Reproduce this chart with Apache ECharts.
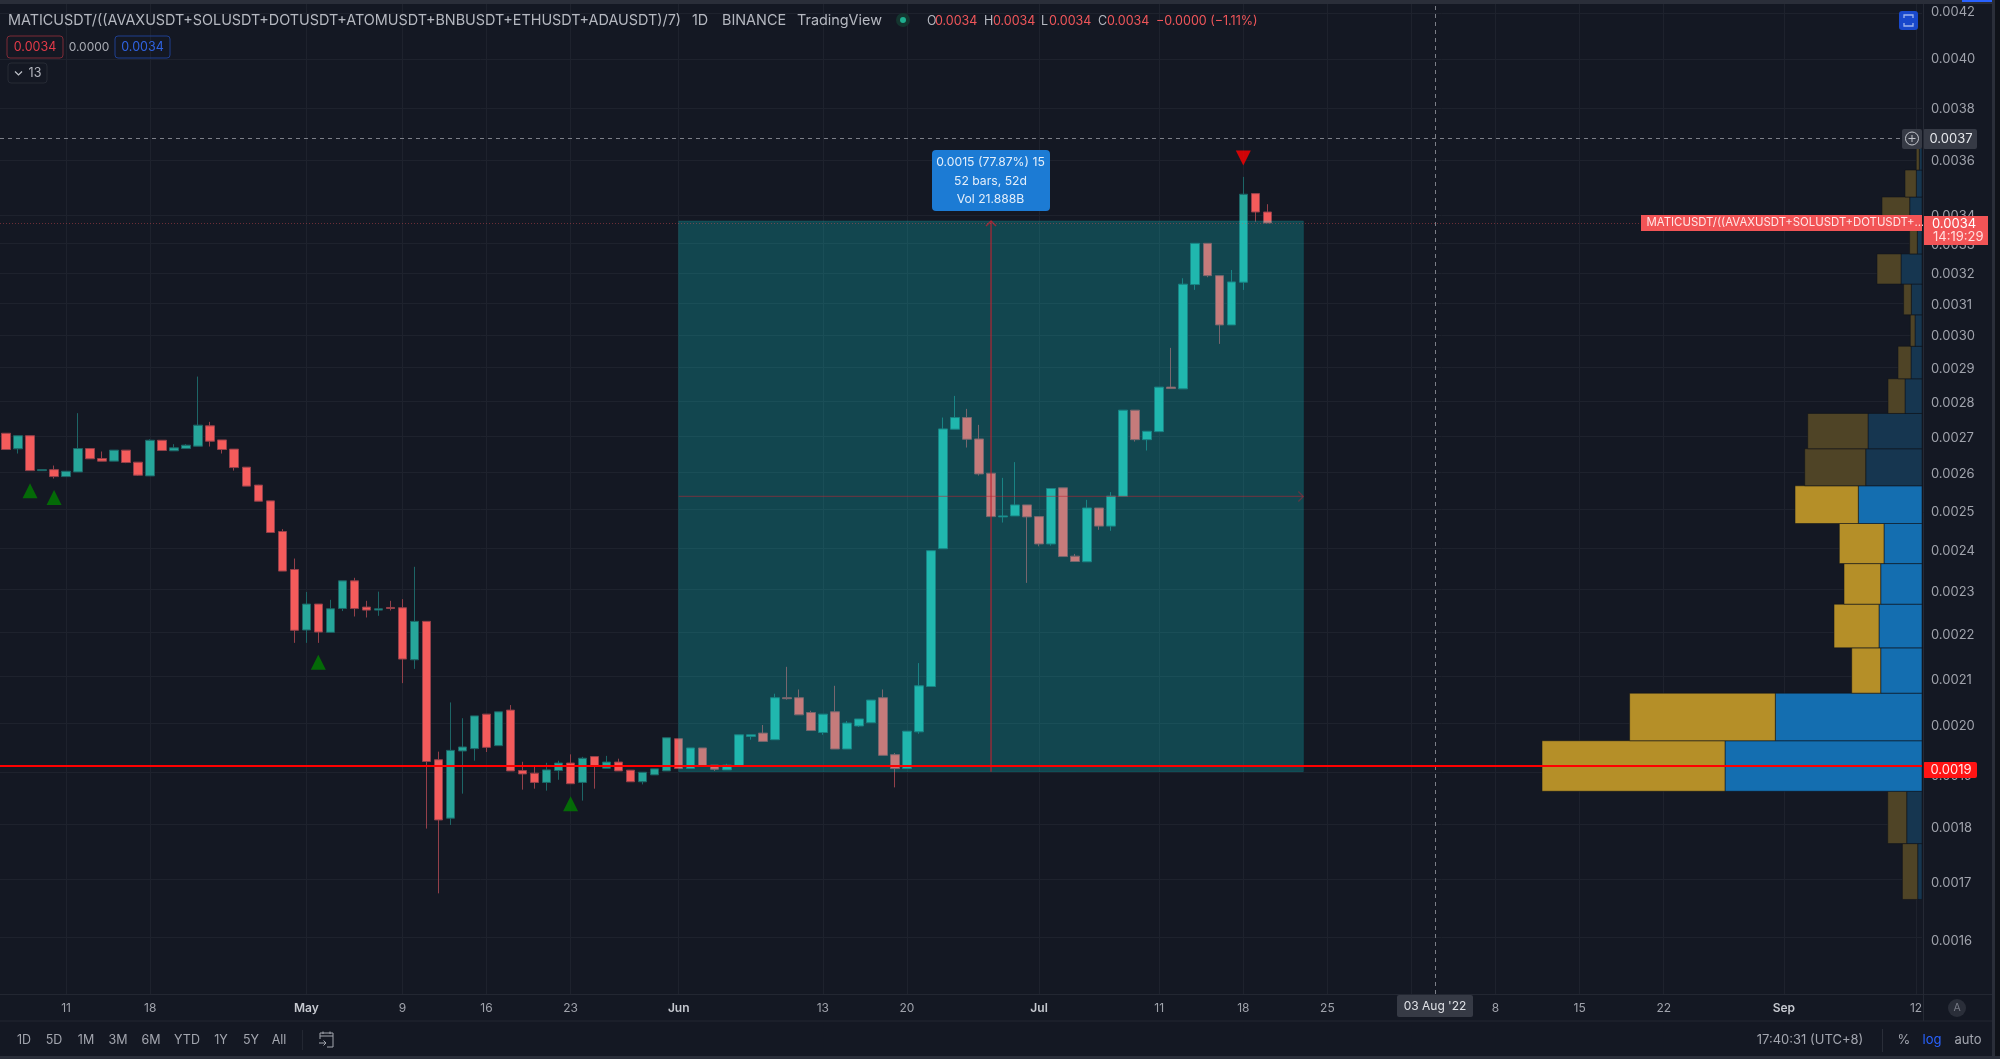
<!DOCTYPE html>
<html><head><meta charset="utf-8">
<style>html,body{margin:0;padding:0;background:#131722;overflow:hidden}#c{width:2000px;height:1059px}</style>
<script src="https://cdn.jsdelivr.net/npm/echarts@6/dist/echarts.min.js"></script>
</head><body><div id="c"></div>
<script>
// ---------- data ----------
const firstDate = '2022-04-06';
const dayCount = 160;
// daily candles from firstDate: [open, close, low, high]
const ohlc = [
[0.0027075,0.0026619,0.0026619,0.0027075],[0.0026638,0.0027006,0.0026508,0.0027006],[0.0027006,0.0026039,0.002603,0.0027006],
[0.0026039,0.0026066,0.0026039,0.0026066],[0.0026066,0.0025877,0.0025824,0.0026177],[0.0025877,0.0026022,0.0025877,0.0026022],
[0.0026003,0.0026646,0.0026003,0.0027649],[0.0026646,0.0026362,0.0026362,0.0026646],[0.002637,0.0026298,0.0026298,0.0026564],
[0.0026298,0.0026602,0.0026298,0.0026602],[0.0026602,0.002626,0.0026243,0.0026602],[0.002627,0.0025915,0.0025896,0.002627],
[0.0025896,0.0026878,0.0025896,0.0026906],[0.0026878,0.0026591,0.0026591,0.0026878],[0.0026583,0.0026666,0.0026583,0.0026768],
[0.0026646,0.002674,0.0026646,0.0026768],[0.0026713,0.0027304,0.0026713,0.0028726],[0.0027285,0.0026851,0.0026702,0.0027399],
[0.0026887,0.0026619,0.0026508,0.0026887],[0.002663,0.0026122,0.0026039,0.002663],[0.0026133,0.0025621,0.0025621,0.0026133],
[0.0025648,0.0025221,0.0025221,0.0025656],[0.0025229,0.0024409,0.0024409,0.0025229],[0.0024435,0.0023446,0.0023446,0.0024496],
[0.0023485,0.002204,0.0021753,0.0023755],[0.0022047,0.0022652,0.0021753,0.0022941],[0.0022652,0.0022,0.0021753,0.0022652],
[0.0021993,0.0022541,0.0021993,0.0022753],[0.0022548,0.0023208,0.0022487,0.0023208],[0.0023208,0.0022546,0.002236,0.0023282],
[0.0022581,0.002251,0.0022337,0.0022729],[0.002251,0.0022541,0.0022376,0.0022948],[0.0022572,0.0022548,0.0022501,0.0022729],
[0.0022565,0.0021388,0.0020857,0.0022769],[0.0021372,0.0022247,0.002117,0.0023551],[0.0022247,0.0019219,0.0017918,0.0022247],
[0.0019254,0.0018081,0.0016747,0.0019417],[0.0018114,0.0019443,0.0017985,0.0020441],[0.0019431,0.0019512,0.0018584,0.0020107],
[0.0019478,0.0020156,0.0019234,0.0020156],[0.0020193,0.0019504,0.001941,0.0020193],[0.0019539,0.0020242,0.0019539,0.0020242],
[0.0020278,0.001903,0.001903,0.0020385],[0.0019037,0.0018971,0.0018662,0.0019213],[0.0018985,0.0018803,0.0018681,0.0019132],
[0.0018803,0.0019051,0.0018642,0.0019193],[0.0019037,0.0019187,0.0018855,0.0019234],[0.0019187,0.0018778,0.0018778,0.0019362],
[0.0018803,0.0019284,0.0018449,0.0019312],[0.0019318,0.0019118,0.0018681,0.0019318],[0.0019085,0.0019207,0.0019085,0.0019332],
[0.0019207,0.001903,0.001903,0.0019275],[0.0019045,0.0018816,0.0018816,0.0019045],[0.0018816,0.0019004,0.0018764,0.0019004],
[0.0018952,0.0019071,0.0018952,0.0019071],[0.001903,0.0019701,0.001903,0.0019701],[0.0019681,0.0019077,0.0019077,0.0019681],
[0.0019077,0.0019492,0.0019077,0.0019492],[0.0019492,0.0019132,0.0019132,0.0019492],[0.0019146,0.0019065,0.001903,0.0019146],
[0.0019051,0.0019146,0.0019051,0.0019173],[0.0019138,0.0019762,0.0019138,0.0019762],[0.0019728,0.0019762,0.0019661,0.0019762],
[0.0019797,0.0019626,0.0019626,0.0019965],[0.0019661,0.0020542,0.0019661,0.0020628],[0.0020542,0.0020521,0.00205,0.0021215],
[0.0020542,0.0020178,0.0020178,0.002072],[0.0020227,0.001985,0.001985,0.0020264],[0.0019809,0.0020193,0.0019762,0.0020193],
[0.0020242,0.0019471,0.0019471,0.0020799],[0.0019471,0.0020006,0.0019471,0.0020049],[0.0019945,0.0020092,0.0019924,0.0020092],
[0.0020013,0.0020492,0.0020013,0.0020492],[0.0020542,0.0019342,0.0019342,0.002072],[0.0019356,0.0019077,0.0018706,0.001939],
[0.0019077,0.0019837,0.0019077,0.0019837],[0.0019823,0.0020799,0.0019782,0.0021298],[0.0020784,0.0023951,0.0020784,0.0023951],
[0.0024,0.0027198,0.0024,0.0027523],[0.0027189,0.0027523,0.0027189,0.0028152],[0.0027523,0.0026906,0.0026674,0.0027773],
[0.0026914,0.0025949,0.0025904,0.0027313],[0.0025968,0.0024818,0.0024818,0.0025968],[0.0024811,0.0024836,0.0024665,0.0025843],
[0.0024836,0.0025123,0.0024836,0.0026271],[0.0025123,0.0024811,0.0023159,0.0025123],[0.0024818,0.002412,0.0024061,0.0024818],
[0.002412,0.0025557,0.0024077,0.0025557],[0.0025576,0.0023804,0.0023804,0.0025576],[0.0023814,0.0023681,0.0023681,0.002387],
[0.0023674,0.0025043,0.0023674,0.0025256],[0.0025043,0.0024573,0.0024478,0.0025043],[0.0024573,0.0025355,0.0024453,0.0025462],
[0.0025344,0.0027736,0.0025344,0.0027736],[0.0027736,0.0026895,0.002684,0.0027736],[0.0026895,0.0027132,0.0026591,0.0027132],
[0.0027121,0.0028411,0.0027121,0.0028411],[0.0028411,0.0028369,0.0028369,0.00296],[0.002836,0.0031635,0.002836,0.0031832],
[0.0031622,0.0033014,0.0031447,0.0033014],[0.0033014,0.0031918,0.0031865,0.0033014],[0.0031918,0.0030318,0.0029723,0.0031918],
[0.0030318,0.003171,0.0030318,0.0032108],[0.00317,0.0034751,0.0031447,0.0035385],[0.0034773,0.0034112,0.0033769,0.0034773],
[0.0034112,0.0033724,0.0033724,0.003439]
];
const yTickValues = [0.0042,0.0040,0.0038,0.0036,0.0034,0.0033,0.0032,0.0031,0.0030,0.0029,0.0028,0.0027,0.0026,0.0025,0.0024,0.0023,0.0022,0.0021,0.0020,0.0019,0.0018,0.0017,0.0016];
const xTickLabels = {'2022-04-11':'11','2022-04-18':'18','2022-05-01':'May','2022-05-09':'9','2022-05-16':'16','2022-05-23':'23','2022-06-01':'Jun','2022-06-13':'13','2022-06-20':'20','2022-07-01':'Jul','2022-07-11':'11','2022-07-18':'18','2022-07-25':'25','2022-08-01':'Aug','2022-08-08':'8','2022-08-15':'15','2022-08-22':'22','2022-09-01':'Sep','2022-09-12':'12'};
const buySignals = [['2022-04-08',0.00255],['2022-04-10',0.0025315],['2022-05-02',0.0021316],['2022-05-23',0.001839]];
const sellSignals = [['2022-07-18',0.0036089]];
// volume profile: [bin low, bin high, up volume, down volume]
const profile = [
[0.001664,0.001764,4.3,15.3],[0.001764,0.001863,15.3,19],[0.001863,0.001964,197,183],[0.001964,0.002064,146.7,145.7],
[0.002064,0.002164,41.3,29],[0.002164,0.002265,43,45],[0.002265,0.002363,41.3,36.7],[0.002363,0.002464,38,44.7],
[0.002464,0.002563,63.7,63.3],[0.002563,0.002664,56.3,61],[0.002664,0.002764,54,60.3],[0.002764,0.002866,17,17],
[0.002866,0.002965,11,13],[0.002965,0.003064,7,4.7],[0.003064,0.003164,10.7,7.7],[0.003164,0.003265,21,24],
[0.003265,0.003366,4.7,7.7],[0.003366,0.003465,12.3,27.7],[0.003465,0.003564,5.7,11.3],[0.003564,0.003647,2.7,3]
];
const valueArea = [0.00186,0.00257];
const measureFrom = '2022-06-01', measureTo = '2022-07-23', measureMid = '2022-06-27';
const measureLow = 0.0019016, measureHigh = 0.0033794, measureMidPrice = 0.0025346;
const supportLevel = 0.0019125, lastPrice = 0.0033724, crosshairPrice = 0.0036855, crosshairDate = '2022-08-03';

// ---------- chart ----------
const dates = [];
{ const d = new Date(firstDate + 'T00:00:00Z');
  for (let i = 0; i < dayCount; i++) { dates.push(d.toISOString().slice(0,10)); d.setUTCDate(d.getUTCDate()+1); } }
const ix = s => dates.indexOf(s);
const FONT = 'Inter, "Noto Sans", sans-serif';
const BG = '#141823', GRID = '#1e222d', MUTED = '#a0a3ac';

const el = [];
const rect = (x,y,w,h,fill,extra) => el.push(Object.assign({type:'rect',z:100,silent:true,shape:{x,y,width:w,height:h,r:(extra&&extra.r)||0},style:{fill:fill,stroke:extra&&extra.stroke,lineWidth:extra&&extra.lw||1}}));
const text = (s,x,y,fill,size,align,weight) => el.push({type:'text',z:101,silent:true,style:{text:s,x,y,fill:fill||MUTED,font:(weight||400)+' '+(size||13)+'px '+FONT,textAlign:align||'left',textVerticalAlign:'middle'}});
const line = (x1,y1,x2,y2,stroke,lw) => el.push({type:'line',z:101,silent:true,shape:{x1,y1,x2,y2},style:{stroke,lineWidth:lw||1}});
const circle = (cx,cy,r,fill,stroke) => el.push({type:'circle',z:101,silent:true,shape:{cx,cy,r},style:{fill:fill||'none',stroke:stroke}});

// frame
rect(0,0,2000,4,'#2a2e39'); rect(1962,0,38,2,'#2962ff');
rect(1992,0,8,1059,'#0f1219'); rect(1992,0,3,1059,'#2a2e39');
rect(0,1056,2000,3,'#2a2e39');
// header
const HC='#b5b8c0';
text('MATICUSDT/((AVAXUSDT+SOLUSDT+DOTUSDT+ATOMUSDT+BNBUSDT+ETHUSDT+ADAUSDT)/7)',8,21,HC,14.4);
text('1D',692,21,HC,14.4); text('BINANCE',722,21,HC,14.4); text('TradingView',797,21,HC,14.4);
circle(903,20,7,'#14352f'); circle(903,20,3,'#1fae8f');
const RED='#f0565a';
text('O',927,21,HC,12.5); text('0.0034',935,21,RED,12.5);
text('H',984,21,HC,12.5); text('0.0034',993,21,RED,12.5);
text('L',1041,21,HC,12.5); text('0.0034',1049,21,RED,12.5);
text('C',1098,21,HC,12.5); text('0.0034',1107,21,RED,12.5);
text('\u22120.0000 (\u22121.11%)',1156,21,RED,12.5);
rect(7,36,56,22,'none',{r:3,stroke:'#7d2a36'}); text('0.0034',35,47.5,'#e23a48',12.5,'center');
text('0.0000',89,47.5,'#a9acb4',12,'center');
rect(115,36,55,22,'none',{r:3,stroke:'#1f3f90'}); text('0.0034',142.5,47.5,'#2f62e0',12.5,'center');
rect(8,63,39,20,'none',{r:3,stroke:'#262a35'});
el.push({type:'polyline',z:101,silent:true,shape:{points:[[15,71.5],[18.5,75],[22,71.5]]},style:{stroke:'#c0c3ca',fill:'none',lineWidth:1.2}});
text('13',35,73,'#b5b8c0',12.5,'center');
// blue corner button
rect(1899,11,19,19,'#1848cc',{r:3});
el.push({type:'polyline',z:101,silent:true,shape:{points:[[1904,18],[1904,15],[1906,15],[1911,15],[1913,15],[1913,18]]},style:{stroke:'#9db4ee',fill:'none',lineWidth:1.3}});
el.push({type:'polyline',z:101,silent:true,shape:{points:[[1904,23],[1904,26],[1913,26],[1913,23]]},style:{stroke:'#9db4ee',fill:'none',lineWidth:1.3}});
// measure tooltip
rect(932,150,118,61,'#1c7bd4',{r:4});
text('0.0015 (77.87%) 15',990.5,162.5,'#e3eefa',12.2,'center');
text('52 bars, 52d',990.5,181,'#e3eefa',12.2,'center');
text('Vol 21.888B',990.5,199.5,'#e3eefa',12.2,'center');
// crosshair tags
rect(1902,129,20,20,'#363a45',{r:2});
circle(1912,138.5,6.5,null,'#c3c6cd'); line(1908.5,138.5,1915.5,138.5,'#c3c6cd'); line(1912,135,1912,142,'#c3c6cd');
rect(1923,129,54,20,'#363a45',{r:2}); text('0.0037',1951,139,'#e6e8ec',13,'center');
rect(1397,995,76,22,'#363a45',{r:2}); text("03 Aug '22",1435,1006.5,'#dfe1e6',12,'center');
// last price tags
rect(1641,215,281,16,'#f25456'); text('MATICUSDT/((AVAXUSDT+SOLUSDT+DOTUSDT+\u2026',1646.5,223,'#ffe6e6',11.4);
rect(1923,216,65,29,'#f25456'); text('0.0034',1932,224,'#fff',13); text('14:19:29',1933,237.5,'#ffdede',13);
// support tag
rect(1923,762,54,16,'#ff1414',{r:2}); text('0.0019',1951,770,'#ffe8e8',13,'center');
// bottom bar
line(0,994.5,1992,994.5,'#232732'); line(0,1021,1992,1021,'#232732');
line(1923.5,4,1923.5,1021,'#252934');
circle(1957,1008,9,'#2a2e39'); text('A',1957,1008,'#787b86',10.5,'center');
const TB='#a3a6af';
[['1D',24],['5D',54],['1M',86],['3M',118],['6M',151],['YTD',187],['1Y',221],['5Y',251],['All',279]].forEach(a=>text(a[0],a[1],1040,TB,12.5,'center'));
line(302.5,1030,302.5,1050,'#232732');
el.push({type:'polyline',z:101,silent:true,shape:{points:[[320,1039],[320,1033],[333,1033],[333,1047],[327,1047]]},style:{stroke:TB,fill:'none',lineWidth:1}});
line(320,1036,333,1036,TB,1); line(319,1043,326,1043,TB,1); line(323.5,1040.5,326,1043,TB,1); line(323.5,1045.5,326,1043,TB,1); line(323,1031.5,323,1034,TB,1); line(330,1031.5,330,1034,TB,1);
text('17:40:31 (UTC+8)',1810,1040,TB,13,'center');
line(1882.5,1029,1882.5,1052,'#2a2e39');
text('%',1904,1040,TB,13,'center'); text('log',1932,1040,'#2962ff',13,'center'); text('auto',1968,1040,TB,13,'center');

const candleData = ohlc.map((r,i)=>[dates[i],r[0],r[1],r[2],r[3]]);
const hLine = (name,price,style,z,rightPad) => ({type:'custom',name,z,clip:true,coordinateSystem:'cartesian2d',
  data:[[0,price]],encode:{x:0,y:1},silent:true,
  renderItem:(p,api)=>{const c=p.coordSys;const y=Math.round(api.coord([0,api.value(1)])[1])+(style.lineWidth%2?0.5:0);
    return {type:'line',shape:{x1:c.x,y1:y,x2:c.x+c.width+1-rightPad,y2:y},style};}});

const option = {
  backgroundColor: BG, animation:false, textStyle:{fontFamily:FONT},
  grid:{left:0,top:4,width:1922,height:990,containLabel:false},
  xAxis:[
    {type:'category',data:dates,boundaryGap:true,
     axisLine:{show:false},axisTick:{show:false},
     axisLabel:{margin:8,fontSize:12,color:MUTED,fontFamily:FONT,interval:(i,v)=>v in xTickLabels,
       formatter:v=>{const s=xTickLabels[v];return /[A-Z]/.test(s)?'{b|'+s+'}':s;},
       rich:{b:{fontWeight:600,fontSize:12,color:'#c6c9d0',fontFamily:FONT}}},
     splitLine:{show:true,alignWithLabel:true,interval:(i,v)=>v in xTickLabels,lineStyle:{color:GRID,width:1}}},
    {type:'value',show:false,inverse:true,min:0,max:1922,splitLine:{show:false}}
  ],
  yAxis:[
    // price scale carrying marks and grid lines
    {type:'log',logBase:10,position:'right',min:0.0015076,max:0.0042386,
     axisLine:{show:false},axisTick:{show:false,customValues:yTickValues},
     axisLabel:{show:false,customValues:yTickValues},
     splitLine:{show:true,lineStyle:{color:GRID,width:1}}},
    // label scale: the reference's printed labels drift slightly from its grid lines
    {type:'log',logBase:10,position:'right',min:0.0015148,max:0.0042375,
     axisLine:{show:false},axisTick:{show:false,customValues:yTickValues},
     axisLabel:{margin:9,fontSize:13,color:MUTED,fontFamily:FONT,customValues:yTickValues,formatter:v=>Number(v).toFixed(4),hideOverlap:false},
     splitLine:{show:false}}
  ],
  graphic:{elements:el},
  series:[
    {type:'candlestick',name:'price',z:2,barWidth:9,data:candleData,encode:{x:0,y:[1,2,3,4]},
     itemStyle:{color:'#26a69a',color0:'#f45b5b',borderColor:'#1d6566',borderColor0:'#94404a',borderWidth:1}},
    {type:'custom',name:'measure',z:3,clip:true,coordinateSystem:'cartesian2d',
     data:[[ix(measureFrom),ix(measureTo),measureLow,measureHigh]],encode:{x:[0,1],y:[2,3]},
     renderItem:(p,api)=>{const a=api.coord([api.value(0),api.value(3)]),b=api.coord([api.value(1),api.value(2)]);
       return {type:'rect',shape:{x:a[0],y:a[1],width:b[0]-a[0],height:b[1]-a[1]},style:{fill:'rgba(10,255,255,0.2)',stroke:'rgba(10,255,255,0.12)',lineWidth:1}};}},
    {type:'custom',name:'measure arrows',z:4,clip:true,coordinateSystem:'cartesian2d',
     data:[[ix(measureFrom),ix(measureTo),ix(measureMid),measureLow,measureHigh,measureMidPrice]],encode:{x:[0,1,2],y:[3,4,5]},
     renderItem:(p,api)=>{const L=api.coord([api.value(0),api.value(5)]),R=api.coord([api.value(1),api.value(5)]),
         B=api.coord([api.value(2),api.value(3)]),T=api.coord([api.value(2),api.value(4)]);
       const st={stroke:'rgba(190,35,50,0.75)',lineWidth:1.5,fill:'none'},st2={stroke:'rgba(190,35,50,0.45)',lineWidth:1.2,fill:'none'};
       return {type:'group',children:[
         {type:'line',shape:{x1:B[0],y1:B[1],x2:T[0],y2:T[1]},style:st},
         {type:'polyline',shape:{points:[[T[0]-5,T[1]+5],[T[0],T[1]],[T[0]+5,T[1]+5]]},style:st},
         {type:'line',shape:{x1:L[0],y1:L[1],x2:R[0],y2:R[1]},style:st2},
         {type:'polyline',shape:{points:[[R[0]-5,R[1]-5],[R[0],R[1]],[R[0]-5,R[1]+5]]},style:st2}]};}},
    {type:'custom',name:'volume profile',z:5,xAxisIndex:1,yAxisIndex:0,coordinateSystem:'cartesian2d',
     data:profile,encode:{x:[2,3],y:[0,1]},
     renderItem:(p,api)=>{const lo=api.value(0),hi=api.value(1),up=api.value(2),dn=api.value(3);
       const a=api.coord([0,lo]),m=api.coord([up,hi]),l=api.coord([up+dn,hi]);
       const lit=lo>=valueArea[0]&&hi<=valueArea[1];
       const blue=lit?'#146eb0':'#163650',gold=lit?'#b58f28':'#4f4426',edge='rgba(15,18,26,0.55)';
       return {type:'group',children:[
         {type:'rect',shape:{x:m[0],y:m[1],width:a[0]-m[0],height:a[1]-m[1]},style:{fill:blue,stroke:edge,lineWidth:1}},
         {type:'rect',shape:{x:l[0],y:m[1],width:m[0]-l[0],height:a[1]-m[1]},style:{fill:gold,stroke:edge,lineWidth:1}}]};}},
    {type:'scatter',name:'buy',z:6,symbol:'triangle',symbolSize:15,data:buySignals,itemStyle:{color:'#008000'}},
    {type:'scatter',name:'sell',z:6,symbol:'triangle',symbolRotate:180,symbolSize:15,data:sellSignals,itemStyle:{color:'#ff0000'}},
    hLine('last price',lastPrice,{stroke:'rgba(240,80,85,0.4)',lineDash:[1,2],lineWidth:1},7,0),
    hLine('crosshair y',crosshairPrice,{stroke:'#7c7f88',lineDash:[4,4],lineWidth:1},7,20),
    hLine('support',supportLevel,{stroke:'#ff0000',lineWidth:2},8,0),
    {type:'line',name:'crosshair x',z:7,data:[],silent:true,
     markLine:{silent:true,symbol:'none',animation:false,label:{show:false},data:[
       {xAxis:crosshairDate,lineStyle:{color:'#7c7f88',type:[4,4],width:1}}
     ]}}
  ]
};
const chart = echarts.init(document.getElementById('c'),null,{renderer:'canvas',width:2000,height:1059});
chart.setOption(option);
</script></body></html>
